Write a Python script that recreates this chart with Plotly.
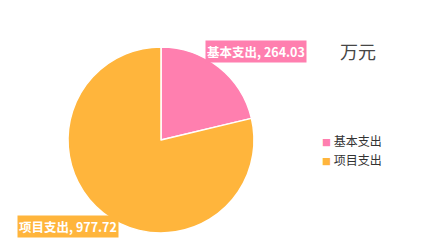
import math
import plotly.graph_objects as go

labels = ["基本支出", "项目支出"]
values = [264.03, 977.72]
colors = ["#FF7FAF", "#FFB53C"]
unit_title = "万元"

W, H = 426, 252
cx, cy, R = 161, 140, 93

fig = go.Figure(go.Pie(
    labels=labels, values=values, sort=False, direction="clockwise", rotation=0,
    marker=dict(colors=colors, line=dict(color="white", width=1.5)),
    textinfo="none", hoverinfo="label+value", showlegend=False,
    domain=dict(x=[(cx - R) / W, (cx + R) / W], y=[(H - cy - R) / H, (H - cy + R) / H]),
))

# legend entries: colored small square glyph + label text
for lab, c in zip(labels, colors):
    fig.add_trace(go.Scatter(
        x=[None], y=[None], mode="markers",
        name=f"<span style='font-size:9px;color:{c}'>■</span> {lab}",
        marker=dict(symbol="square", size=1, color="rgba(0,0,0,0)")))

total = sum(values)
cum = 0
shifts = [dict(xanchor="left", yanchor="bottom", xshift=-14, yshift=4),
          dict(xanchor="right", yanchor="top", xshift=16, yshift=-2)]
for lab, v, c, s in zip(labels, values, colors, shifts):
    mid = (cum + v / 2) / total * 2 * math.pi
    cum += v
    px = cx + R * math.sin(mid)
    py = cy - R * math.cos(mid)
    fig.add_annotation(
        x=px / W, y=1 - py / H, xref="paper", yref="paper",
        text=f"<b>{lab}, {v:.2f}</b>", showarrow=False,
        font=dict(color="white", size=12.5, family="Noto Sans CJK SC"),
        bgcolor=c, borderpad=1, **s)

fig.add_annotation(x=358 / W, y=1 - 51 / H, xref="paper", yref="paper", text=unit_title,
                   showarrow=False, font=dict(size=18, color="#464646", family="Noto Sans CJK SC"),
                   xanchor="center", yanchor="middle")

fig.update_layout(
    width=W, height=H, margin=dict(l=0, r=0, t=0, b=0),
    paper_bgcolor="white", plot_bgcolor="white",
    showlegend=True,
    xaxis=dict(visible=False), yaxis=dict(visible=False),
    legend=dict(x=282 / W, y=1 - 151 / H, xanchor="left", yanchor="middle",
                font=dict(size=12, color="#333", family="Noto Sans CJK SC"),
                itemwidth=30, tracegroupgap=0, bgcolor="rgba(0,0,0,0)"),
)
fig.write_html("out.html")
